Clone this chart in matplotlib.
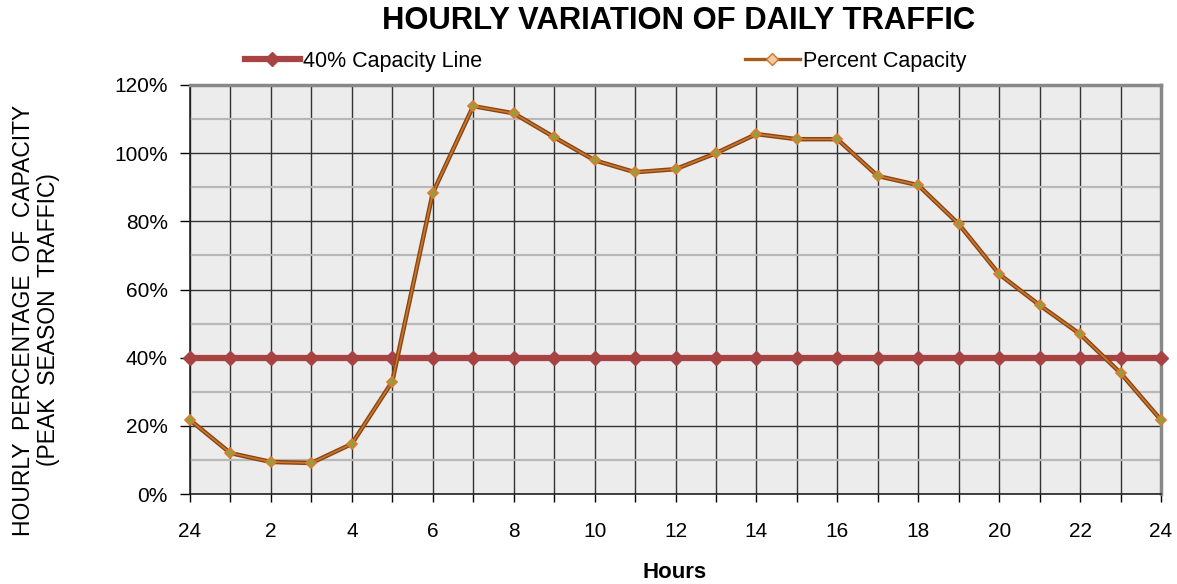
import numpy as np
import matplotlib.pyplot as plt
from matplotlib.ticker import MultipleLocator, FuncFormatter

plt.rcParams['font.family'] = ['Liberation Sans', 'DejaVu Sans']

# data
hours = list(range(25))
hour_labels = ['24', '2', '4', '6', '8', '10', '12', '14', '16', '18', '20', '22', '24']
capacity_line = [40] * 25
percent_capacity = [21.7, 12.0, 9.4, 9.1, 14.7, 33.0, 88.3, 113.8, 111.7, 104.7,
                    97.9, 94.4, 95.3, 100.0, 105.6, 104.1, 104.1, 93.3, 90.6, 79.2,
                    64.5, 55.4, 46.9, 35.5, 21.7]

fig = plt.figure(figsize=(11.77, 5.84), dpi=100)
ax = fig.add_axes([190 / 1177, 1 - 494 / 584, 971 / 1177, 409 / 584])
ax.set_facecolor('#ececec')

ax.set_xlim(0, 24)
ax.set_ylim(0, 120)
ax.set_xticks(range(0, 25, 2))
ax.set_xticks(range(25), minor=True)
ax.set_xticklabels(hour_labels)
ax.yaxis.set_major_locator(MultipleLocator(20))
ax.yaxis.set_minor_locator(MultipleLocator(10))
ax.yaxis.set_major_formatter(FuncFormatter(lambda v, p: f'{v:.0f}%'))

# grid
ax.grid(which='minor', axis='y', color='#b8b8b8', lw=1.6, zorder=0)
ax.grid(which='major', axis='y', color='#333333', lw=1.0, zorder=0)
ax.grid(which='both', axis='x', color='#333333', lw=1.0, zorder=0)
ax.set_axisbelow(True)

ax.tick_params(which='both', direction='out', length=6, width=1, labelsize=15)
ax.tick_params(axis='y', which='major', length=7, pad=9)
ax.tick_params(axis='y', which='minor', length=0)
ax.tick_params(axis='x', which='both', length=6)
ax.tick_params(axis='x', which='major', pad=14)
for s in ['left', 'bottom']:
    ax.spines[s].set_color('#222222')
    ax.spines[s].set_linewidth(1.2)
for s in ['top', 'right']:
    ax.spines[s].set_color('#888888')
    ax.spines[s].set_linewidth(2.5)

l1, = ax.plot(hours, capacity_line, color='#a84343', lw=4.5, marker='D', ms=7,
              mfc='#a84343', mec='#a84343', zorder=3, clip_on=False,
              label='40% Capacity Line')
ax.plot(hours, percent_capacity, color='#8a4512', lw=3.2, zorder=4, clip_on=False)
ax.plot(hours, percent_capacity, color='#c8782e', lw=1.2, marker='D', ms=5.5,
        mfc='#8fa043', mec='#e07a2a', mew=1.2, zorder=5, clip_on=False)

# legend proxy for the second series (peach marker in the reference)
p2, = ax.plot([], [], color='#a85a1a', lw=2.4, marker='D', ms=6,
              mfc='#f5c8a0', mec='#c8782e', label='Percent Capacity')
leg_kw = dict(loc='center left', frameon=False, fontsize=15.5, handlelength=2.55,
              handletextpad=0.15, borderpad=0, borderaxespad=0)
fig.legend(handles=[l1], bbox_to_anchor=(245 / 1177, 1 - 61 / 584), **leg_kw)
fig.legend(handles=[p2], bbox_to_anchor=(745 / 1177, 1 - 61 / 584), **leg_kw)

fig.text(679 / 1177, 1 - 21 / 584, 'HOURLY VARIATION OF DAILY TRAFFIC',
         ha='center', va='center', fontsize=22.3, fontweight='bold')
fig.text(675 / 1177, 1 - 573 / 584, 'Hours', ha='center', va='center',
         fontsize=16, fontweight='bold')
fig.text(36 / 1177, 1 - 320 / 584,
         'HOURLY  PERCENTAGE  OF  CAPACITY\n(PEAK  SEASON  TRAFFIC)',
         ha='center', va='center', rotation=90, fontsize=16.5, linespacing=1.1)

fig.savefig('out.png', dpi=100)
